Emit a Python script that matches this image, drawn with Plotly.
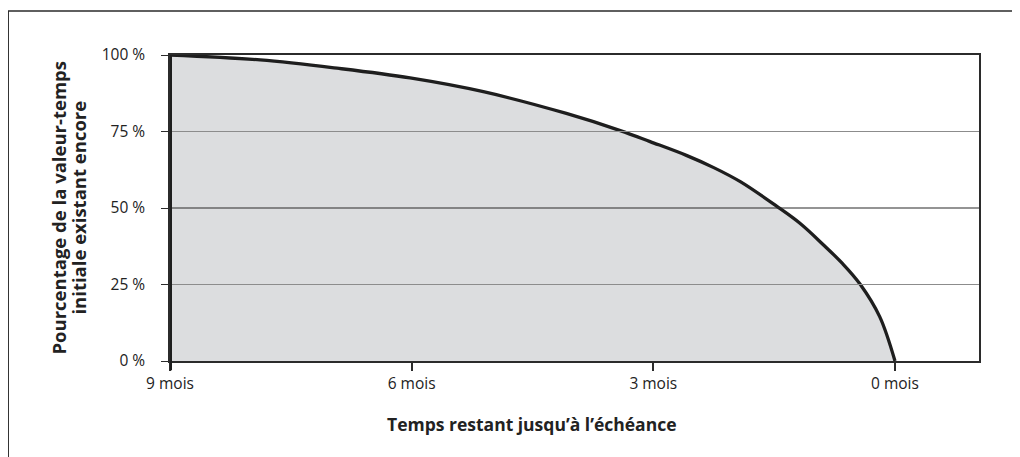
import plotly.graph_objects as go

# Data
months_remaining = [9.0, 7.88, 6.9, 6.02, 5.11, 4.08, 3.41, 3.04, 2.59, 2.25, 1.92, 1.47, 1.18, 0.89, 0.65, 0.43, 0.19, 0.0]
pct_time_value = [100, 98.4, 95.6, 92.5, 88.0, 80.9, 75.3, 71.7, 67.2, 63.2, 58.6, 50.6, 45.0, 38.0, 31.8, 25.0, 14.5, 0]

x_tick_vals = [9, 6, 3, 0]
x_tick_text = ["9 mois", "6 mois", "3 mois", "0 mois"]
y_tick_vals = [0, 25, 50, 75, 100]
y_tick_text = ["0 %", "25 %", "50 %", "75 %", "100 %"]
x_title = "Temps restant jusqu’à l’échéance"
y_title_lines = ["Pourcentage de la valeur-temps", "initiale existant encore"]

FONT = "Open Sans"
DARK = "#2b2b2b"
TXT = "#222222"

fig = go.Figure()

# Shaded area under the curve
fig.add_trace(go.Scatter(
    x=months_remaining, y=pct_time_value,
    mode="lines", line=dict(color="#1e1e1e", width=3.3, shape="spline", smoothing=1.0),
    fill="tozeroy", fillcolor="#dcdddf", hoverinfo="skip", showlegend=False,
))

shapes = []
# horizontal reference lines (above the fill)
for val, col in [(25, "#8c8c8c"), (50, DARK), (75, "#8c8c8c")]:
    shapes.append(dict(type="line", xref="paper", yref="y", x0=0, x1=1, y0=val, y1=val,
                       line=dict(color=col, width=1.2), layer="above"))
# thick vertical start line at 9 months (extends into tick)
shapes.append(dict(type="line", xref="x", yref="paper", x0=months_remaining[0], x1=months_remaining[0],
                   y0=-0.03, y1=1.0, line=dict(color="#1e1e1e", width=4), layer="above"))
# outer frame (cut off at right and bottom)
shapes.append(dict(type="rect", xref="paper", yref="paper", x0=-0.2, x1=1.08, y0=-0.4, y1=1.144,
                   line=dict(color=DARK, width=1.5), fillcolor="rgba(0,0,0,0)", layer="below"))

annotations = [
    dict(text=f"<b>{x_title}</b>", xref="x", yref="paper",
         x=4.5, y=-0.206, xanchor="center", yanchor="middle", showarrow=False,
         font=dict(family=FONT, size=17.5, color=TXT)),
]
for i, line in enumerate(y_title_lines):
    annotations.append(dict(text=f"<b>{line}</b>", xref="paper", yref="paper",
                            x=-0.139 + 0.0247 * i, y=0.5, xanchor="center", yanchor="middle",
                            showarrow=False, textangle=-90,
                            font=dict(family=FONT, size=18.5, color=TXT)))

fig.update_layout(
    width=1012, height=449,
    margin=dict(l=162, r=41, t=47, b=96, autoexpand=False),
    paper_bgcolor="white", plot_bgcolor="white",
    font=dict(family=FONT, size=15, color=TXT),
    shapes=shapes,
    annotations=annotations,
)

fig.update_xaxes(
    range=[9, -1.043], tickvals=x_tick_vals, ticktext=x_tick_text,
    showgrid=False, zeroline=False,
    showline=True, linecolor=DARK, linewidth=1.5, mirror=True,
    ticks="outside", ticklen=8, tickwidth=1.5, tickcolor=DARK,
    tickfont=dict(family=FONT, size=15.5, color=TXT),
)
fig.update_yaxes(
    range=[0, 100], tickvals=y_tick_vals, ticktext=y_tick_text,
    showgrid=False, zeroline=False,
    showline=True, linecolor=DARK, linewidth=1.5, mirror=True,
    ticks="outside", ticklen=7, tickwidth=1, tickcolor=DARK,
    tickfont=dict(family=FONT, size=15.5, color=TXT),
    ticklabelstandoff=13,
)

fig.write_html("out.html")
